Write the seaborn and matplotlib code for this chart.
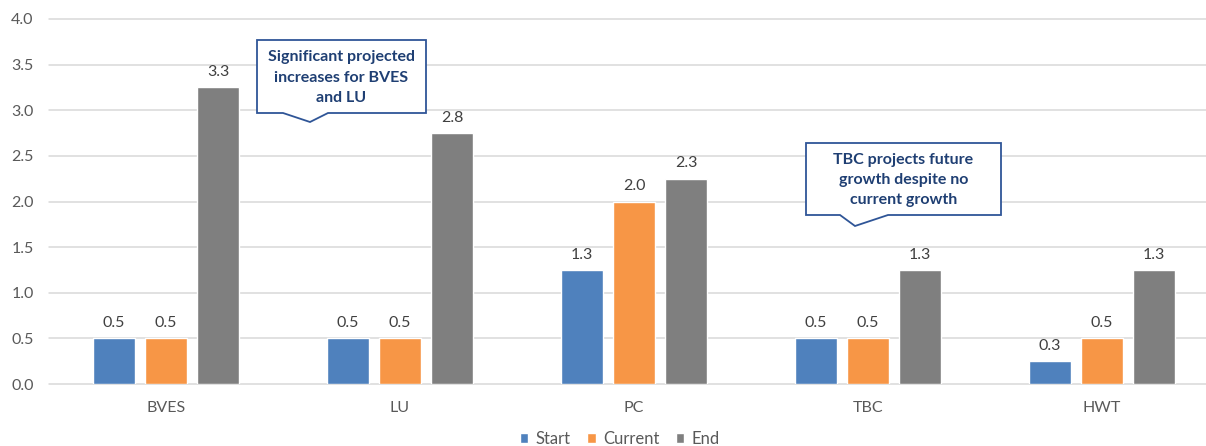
import matplotlib
matplotlib.use("Agg")
import matplotlib.pyplot as plt
import matplotlib.transforms as mtransforms
from matplotlib.patches import Polygon
from decimal import Decimal, ROUND_HALF_UP
import pandas as pd
import seaborn as sns

# Values per site
sites = ["BVES", "LU", "PC", "TBC", "HWT"]
series = ["Start", "Current", "End"]
start = [0.5, 0.5, 1.25, 0.5, 0.25]
current = [0.5, 0.5, 2.0, 0.5, 0.5]
end = [3.25, 2.75, 2.25, 1.25, 1.25]
y_ticks = [0.0, 0.5, 1.0, 1.5, 2.0, 2.5, 3.0, 3.5, 4.0]

colors = ["#4F81BD", "#F79646", "#7F7F7F"]
text_gray = "#595959"
note_blue = "#1F3F73"
note_edge = "#2F5597"

df = pd.DataFrame({
    "site": sites * 3,
    "series": [s for s in series for _ in sites],
    "value": start + current + end,
})

sns.set_theme(style="white")
plt.rcParams["font.family"] = ["Lato", "DejaVu Sans"]

W, H = 1206, 446
fig = plt.figure(figsize=(W / 100, H / 100), dpi=100)
ax = fig.add_axes([49 / W, (H - 384) / H, 1170 / W, 365 / H])

sns.barplot(data=df, x="site", y="value", hue="series", order=sites,
            hue_order=series, palette=colors, width=0.667, gap=0.21,
            saturation=1, ax=ax, zorder=3, legend=True)


def fmt(v):
    return str(Decimal(str(v)).quantize(Decimal("0.1"), rounding=ROUND_HALF_UP))


for cont in ax.containers:
    ax.bar_label(cont, labels=[fmt(v) for v in cont.datavalues], padding=6,
                 fontsize=11.5, color="#404040")

ax.set_xlim(-0.5, 4.5)
ax.set_ylim(0, 4.0)
ax.set_yticks(y_ticks)
ax.set_yticklabels([f"{t:.1f}" for t in y_ticks])
ax.yaxis.grid(True, color="#D9D9D9", linewidth=1.1, zorder=0)
for ln in ax.get_ygridlines():
    ln.set_clip_on(False)
ax.set_axisbelow(True)
ax.set_xlabel("")
ax.set_ylabel("")
for s in ax.spines.values():
    s.set_visible(False)
ax.tick_params(axis="y", length=0, pad=11, labelsize=11.5, labelcolor=text_gray)
ax.tick_params(axis="x", length=0, pad=12, labelsize=11.5, labelcolor=text_gray)

leg = ax.get_legend()
handles = leg.legend_handles
leg.remove()
fig.legend(handles, series, loc="lower center", bbox_to_anchor=(0.514, -0.036),
           ncol=3, frameon=False, fontsize=12, handlelength=0.5,
           handleheight=0.5, handletextpad=0.45, columnspacing=1.0,
           labelcolor=text_gray)

# Callout boxes, positioned in pixel space (origin top-left)
px = mtransforms.Affine2D().scale(1 / W, -1 / H).translate(0, 1) + fig.transFigure


def callout(x0, y0, x1, y1, n0, tip, n1, text):
    pts = [(x0, y0), (x1, y0), (x1, y1), (n1, y1), tip, (n0, y1), (x0, y1)]
    fig.add_artist(Polygon(pts, closed=True, transform=px, facecolor="white",
                           edgecolor=note_edge, linewidth=1.3, zorder=5))
    fig.text((x0 + x1) / 2, (y0 + y1) / 2 + 1, text, transform=px, ha="center",
             va="center", fontsize=11.5, fontweight="bold", color=note_blue,
             linespacing=1.55, zorder=6)


callout(257, 40, 426, 113, 283, (310, 122), 328,
        "Significant projected\nincreases for BVES\nand LU")
callout(806, 143, 1001, 215, 840, (855, 226), 888,
        "TBC projects future\ngrowth despite no\ncurrent growth")

fig.savefig("out.png", dpi=100)
